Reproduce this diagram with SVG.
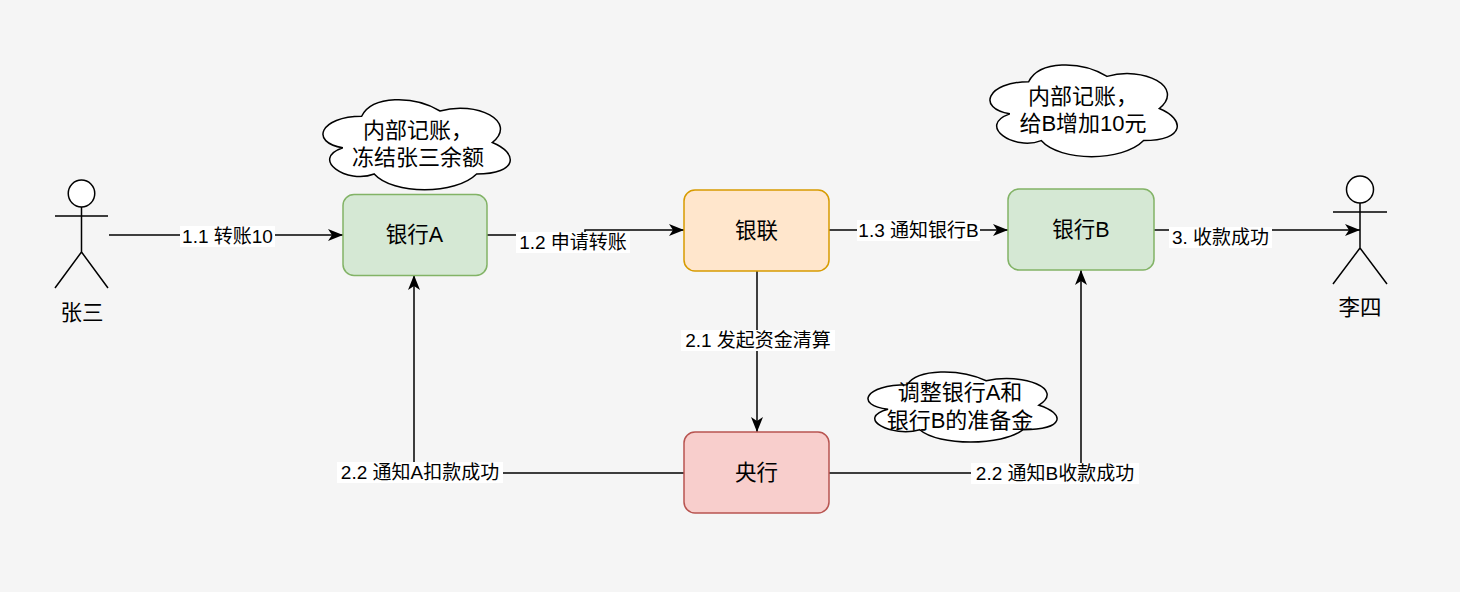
<svg xmlns="http://www.w3.org/2000/svg" width="1460" height="592" viewBox="0 0 1460 592">
<defs>
<style>
text{font-family:"Liberation Sans","Noto Sans CJK SC",sans-serif;fill:#000;text-anchor:middle;dominant-baseline:central}
.node{font-size:21.5px}
.ctext{font-size:22px}
.elab{font-size:19px}
.lbg{fill:#ffffff}
.edge{fill:none;stroke:#000;stroke-width:1.5}
.actor{fill:#fff;stroke:#000;stroke-width:1.5}
.cloud{fill:#fff;stroke:#000;stroke-width:1.5}
</style>
<marker id="arr" markerUnits="userSpaceOnUse" markerWidth="15" markerHeight="12" viewBox="0 0 15 12" refX="15" refY="6" orient="auto">
<path d="M0,0 L15,6 L0,12 L4,6 Z" fill="#000"/>
</marker>
</defs>
<rect x="0" y="0" width="1460" height="592" fill="#f5f5f5"/>

<g id="connectors">
<path class="edge" d="M109,235 H343" marker-end="url(#arr)"/>
<path class="edge" d="M487,235 H585 V230 H684" marker-end="url(#arr)"/>
<path class="edge" d="M829,230 H1008" marker-end="url(#arr)"/>
<path class="edge" d="M1154,230 H1360" marker-end="url(#arr)"/>
<path class="edge" d="M757,271 V432" marker-end="url(#arr)"/>
<path class="edge" d="M684,473 H414 V275" marker-end="url(#arr)"/>
<path class="edge" d="M829,473 H1081 V270" marker-end="url(#arr)"/>
<rect class="lbg" x="180" y="226" width="95" height="21"/>
<text class="elab" x="227.5" y="236.5">1.1 转账10</text>
<rect class="lbg" x="516" y="232" width="114" height="21"/>
<text class="elab" x="573" y="242.5">1.2 申请转账</text>
<rect class="lbg" x="857" y="220" width="123" height="21"/>
<text class="elab" x="918.5" y="230.5">1.3 通知银行B</text>
<rect class="lbg" x="1169" y="227" width="103" height="21"/>
<text class="elab" x="1220.5" y="237.5">3. 收款成功</text>
<rect class="lbg" x="681" y="330" width="154" height="21"/>
<text class="elab" x="758" y="340.5">2.1 发起资金清算</text>
<rect class="lbg" x="337" y="462" width="166" height="21"/>
<text class="elab" x="420" y="472.5">2.2 通知A扣款成功</text>
<rect class="lbg" x="971" y="463" width="168" height="21"/>
<text class="elab" x="1055" y="473.5">2.2 通知B收款成功</text>
</g>

<g id="zhangsan">
<ellipse class="actor" cx="81.5" cy="193.5" rx="13.25" ry="13.5"/>
<path class="actor" d="M81.5,207 V252 M55,216 H108 M81.5,252 L55,288 M81.5,252 L108,288"/>
<text class="node" x="82" y="313">张三</text>
</g>

<g id="lisi">
<ellipse class="actor" cx="1360" cy="189.5" rx="13.5" ry="13.5"/>
<path class="actor" d="M1360,203 V248 M1333,212 H1387 M1360,248 L1333,284 M1360,248 L1387,284"/>
<text class="node" x="1360" y="308">李四</text>
</g>

<g id="bankA">
<rect x="343" y="194.5" width="144" height="81" rx="11" fill="#d5e8d4" stroke="#82b366" stroke-width="1.5"/>
<text class="node" x="414.5" y="235">银行A</text>
</g>

<g id="unionpay">
<rect x="684" y="190" width="145" height="81" rx="11" fill="#ffe6cc" stroke="#d79b00" stroke-width="1.5"/>
<text class="node" x="756.5" y="230.5">银联</text>
</g>

<g id="bankB">
<rect x="1008" y="189" width="146" height="81" rx="11" fill="#d5e8d4" stroke="#82b366" stroke-width="1.5"/>
<text class="node" x="1081" y="229.5">银行B</text>
</g>

<g id="central">
<rect x="684" y="432" width="145" height="81" rx="11" fill="#f8cecc" stroke="#b85450" stroke-width="1.5"/>
<text class="node" x="756.5" y="472.5">央行</text>
</g>

<g id="cloudA">
<path class="cloud" d="M361.65,116.25 C319.85,116.25 309.4,142.5 342.84,147.75 C309.4,159.3 347.02,184.5 374.19,174 C393,195 455.7,195 476.6,174 C518.4,174 518.4,153 492.3,142.5 C518.4,121.5 476.6,100.5 440,111 C413.9,95.25 372.1,95.25 361.65,116.25 Z"/>
<text class="ctext" x="418" y="130">内部记账，</text>
<text class="ctext" x="418" y="157">冻结张三余额</text>
</g>

<g id="cloudB">
<path class="cloud" d="M1028.65,81.75 C986.85,81.75 976.4,108.5 1009.84,113.85 C976.4,125.6 1014.02,151.3 1041.19,140.6 C1060,162 1122.7,162 1143.6,140.6 C1185.4,140.6 1185.4,119.2 1159.3,108.5 C1185.4,87.1 1143.6,65.7 1107,76.4 C1080.9,60.35 1039.1,60.35 1028.65,81.75 Z"/>
<text class="ctext" x="1083" y="96">内部记账，</text>
<text class="ctext" x="1083" y="123">给B增加10元</text>
</g>

<g id="cloudC">
<path class="cloud" d="M907.05,384.75 C864.85,384.75 854.3,405.2 888.06,409.3 C854.3,418.3 892.3,437.9 919.71,429.7 C938.7,446.1 1002,446.1 1023.1,429.7 C1065.3,429.7 1065.3,413.4 1038.9,405.2 C1065.3,388.8 1023.1,372.5 986.2,380.7 C959.8,368.4 917.6,368.4 907.05,384.75 Z"/>
<text class="ctext" x="960" y="392">调整银行A和</text>
<text class="ctext" x="960" y="420">银行B的准备金</text>
</g>
</svg>
